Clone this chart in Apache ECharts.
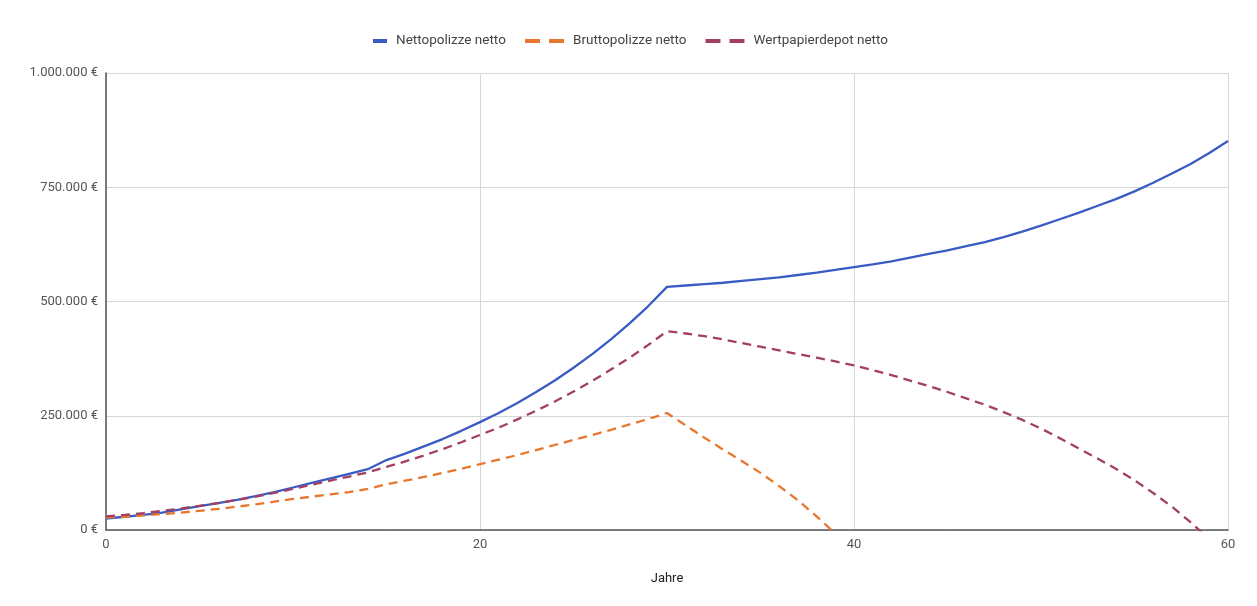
<!DOCTYPE html>
<html>
<head>
<meta charset="utf-8">
<script src="https://cdn.jsdelivr.net/npm/echarts@6/dist/echarts.min.js"></script>
<style>
  html, body { margin: 0; padding: 0; background: #fff; }
  #main { width: 1257px; height: 606px; }
</style>
</head>
<body>
<div id="main"></div>
<script>
var years = [];
for (var i = 0; i <= 60; i++) years.push(i);

// values in thousand euro
var netto = [25, 29, 33, 38, 45, 52, 59, 66, 74, 83,
	93, 103, 113, 123, 133, 153, 167, 183, 199, 217,
	236, 256, 278, 302, 327, 355, 385, 417, 452, 490,
	532, 535, 538, 541, 545, 549, 553, 558, 563, 569,
	575, 581, 588, 596, 604, 612, 621, 630, 641, 653,
	666, 680, 694, 709, 724, 741, 760, 780, 801, 825,
	851];
var brutto = [27, 29, 32, 35, 38, 42, 46, 51, 56, 62,
	68, 73, 78, 83, 90, 100, 108, 116, 125, 134,
	144, 154, 164, 175, 186, 197, 208, 219, 231, 243,
	256, 229, 202, 176, 151, 125, 96, 65, 30, -8,
	-50];
var depot = [30, 33, 37, 42, 47, 53, 59, 66, 73, 81,
	90, 99, 108, 117, 126, 138, 150, 163, 177, 192,
	208, 224, 242, 261, 281, 303, 326, 351, 377, 405,
	435, 430, 424, 417, 409, 401, 393, 385, 377, 369,
	360, 350, 339, 327, 315, 302, 288, 274, 258, 241,
	222, 201, 179, 157, 134, 109, 81, 51, 17, -20,
	-60];

var names = ['Nettopolizze netto', 'Bruttopolizze netto', 'Wertpapierdepot netto'];
var colors = ['#3a5bc4', '#e8772e', '#a23f62'];

function pairs(arr) {
	return arr.map(function(v, i) { return [years[i], v * 1000]; });
}

function euro(v) {
	return String(v).replace(/\B(?=(\d{3})+(?!\d))/g, '.') + ' €';
}

var legendText = { color: '#444', fontSize: 13.5, padding: [0, 0, 0, 4] };

var myChart = echarts.init(document.getElementById('main'));
var option = {
	backgroundColor: '#fff',
	color: colors,
	textStyle: { fontFamily: 'Roboto, Arial, sans-serif' },
	legend: [{
		top: 29,
		left: 368,
		itemWidth: 14,
		itemHeight: 4,
		icon: 'path://M0,0H14V4H0Z',
		textStyle: legendText,
		data: [names[0]]
	}, {
		top: 29,
		left: 520,
		itemWidth: 39,
		itemHeight: 4,
		itemGap: 19,
		icon: 'path://M0,0H15V4H0Z M24,0H39V4H24Z',
		textStyle: legendText,
		data: [names[1], names[2]]
	}],
	grid: { left: 106, right: 29, top: 73, bottom: 76 },
	xAxis: {
		type: 'value',
		min: 0,
		max: 60,
		interval: 20,
		name: 'Jahre',
		nameLocation: 'middle',
		nameGap: 42,
		nameTextStyle: { color: '#222', fontSize: 13 },
		axisLine: { lineStyle: { color: '#555', width: 1.5 } },
		axisTick: { show: false },
		axisLabel: { color: '#555', fontSize: 13, margin: 8 },
		splitLine: { lineStyle: { color: '#d6d6d6' } }
	},
	yAxis: {
		type: 'value',
		min: 0,
		max: 1000000,
		interval: 250000,
		axisLine: { show: true, lineStyle: { color: '#555', width: 1.5 } },
		axisTick: { show: false },
		axisLabel: { color: '#555', fontSize: 13, margin: 8, formatter: euro },
		splitLine: { lineStyle: { color: '#d6d6d6' } }
	},
	series: [
		{
			name: names[0], type: 'line', data: pairs(netto),
			showSymbol: false, clip: true,
			lineStyle: { width: 2.3, color: colors[0] }
		},
		{
			name: names[1], type: 'line', data: pairs(brutto),
			showSymbol: false, clip: true,
			lineStyle: { width: 2.3, color: colors[1], type: [9, 6] }
		},
		{
			name: names[2], type: 'line', data: pairs(depot),
			showSymbol: false, clip: true,
			lineStyle: { width: 2.3, color: colors[2], type: [9, 6] }
		}
	]
};
myChart.setOption(option);
</script>
</body>
</html>
